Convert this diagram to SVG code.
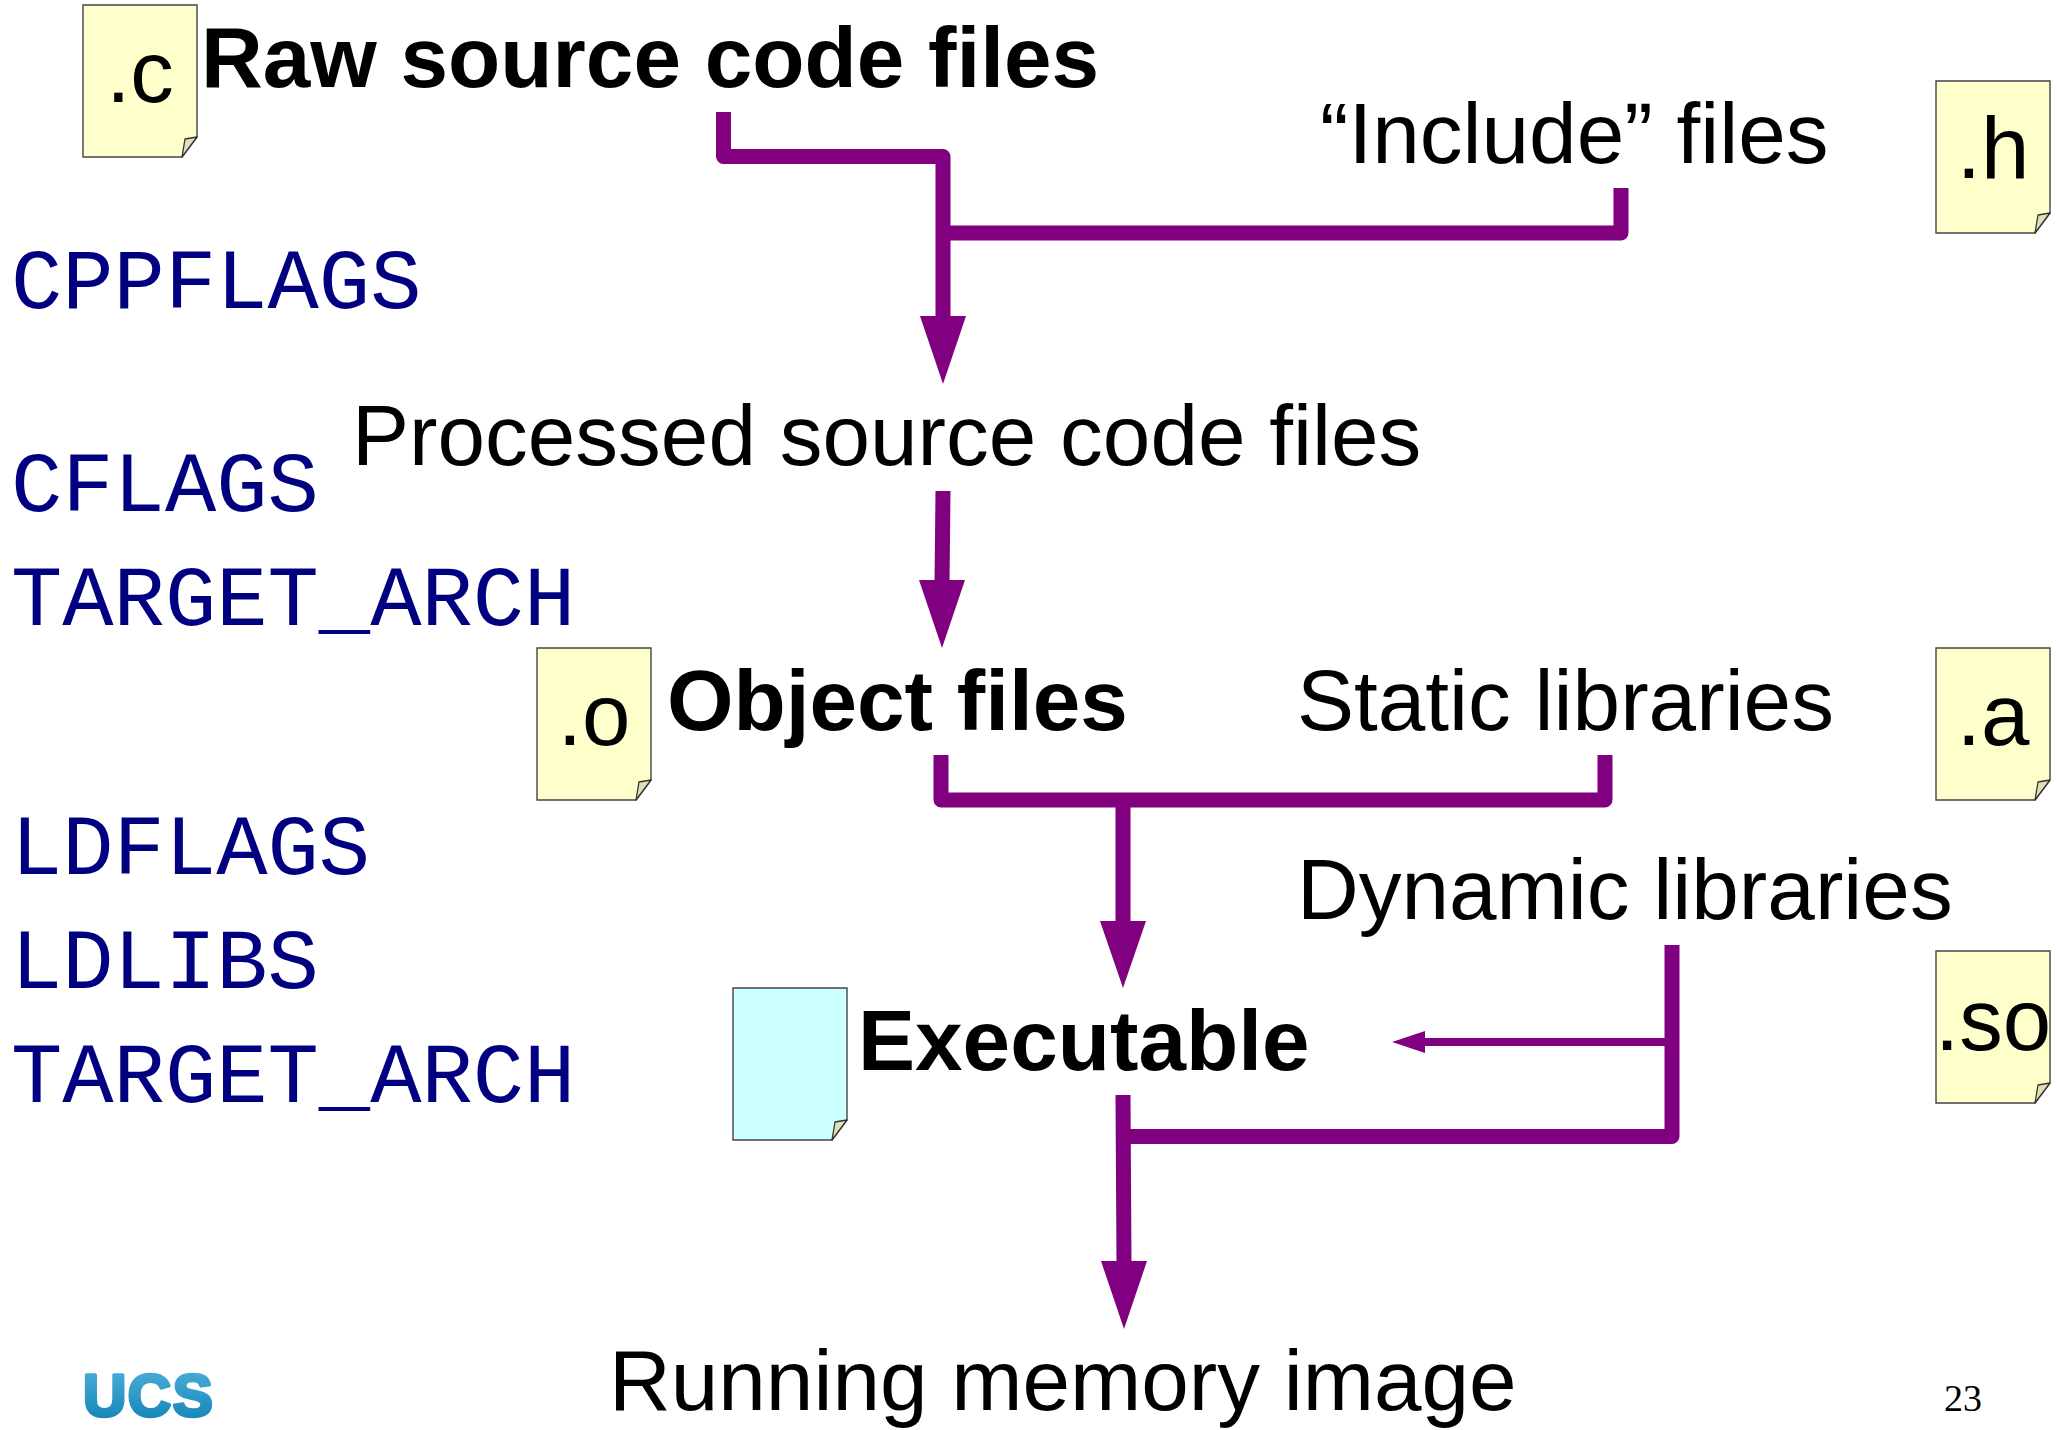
<svg xmlns="http://www.w3.org/2000/svg" width="2057" height="1430" viewBox="0 0 2057 1430">
<style>
.t{font-family:"Liberation Sans",Arial,sans-serif;font-size:85.5px;fill:#000}
.l{font-family:"Liberation Sans",Arial,sans-serif;font-size:87px;fill:#000;text-anchor:middle}
.b{font-weight:bold}
.m{font-family:"Liberation Mono","Courier New",monospace;font-size:85.5px;fill:#000080}
.w{fill:none;stroke:#800080;stroke-width:15;stroke-linejoin:round}
.h{fill:#800080}
.n{stroke:#444;stroke-width:1.4}
.f{fill:#e0e0b8;stroke:#333;stroke-width:1.3;stroke-linejoin:round}
</style>
<defs>
<linearGradient id="g" x1="0" y1="0" x2="0" y2="1"><stop offset="0" stop-color="#4fb3d9"/><stop offset="1" stop-color="#0f7fb5"/></linearGradient>
<filter id="soft" x="-5%" y="-5%" width="110%" height="110%"><feGaussianBlur stdDeviation="0.7"/></filter>
<g id="yellow"><path class="n" fill="#ffffcc" d="M0 0H114V132L99 152H0Z"/><path class="f" d="M99 152L102 134L114 132Z"/></g>
<g id="cyan"><path class="n" fill="#ccffff" d="M0 0H114V132L99 152H0Z"/><path class="f" d="M99 152L102 134L114 132Z"/></g>
</defs>
<rect width="2057" height="1430" fill="#fff"/>
<g id="connectors">
<path class="w" d="M723.5 112V156.500H943V320"/><path class="h" d="M920 316H966L943 384Z"/>
<path class="w" d="M1621 188V233H943"/>
<path class="w" d="M943 491L942 584"/><path class="h" d="M919 580H965L942 648Z"/>
<path class="w" d="M941 755V800H1605V755"/>
<path class="w" d="M1123 800V925"/><path class="h" d="M1100 921H1146L1123 988Z"/>
<path class="w" d="M1672 945V1136.500H1123"/>
<path d="M1672 1042H1420" fill="none" stroke="#800080" stroke-width="8"/><path class="h" d="M1392 1042L1425 1031V1053Z"/>
<path class="w" d="M1123 1095L1124 1265"/><path class="h" d="M1101 1261H1147L1124 1329Z"/>
</g>
<g id="note-c"><use href="#yellow" x="83" y="5"/><text class="l" x="140" y="102">.c</text></g>
<g id="note-h"><use href="#yellow" x="1936" y="81"/><text class="l" x="1993" y="178">.h</text></g>
<g id="note-o"><use href="#yellow" x="537" y="648"/><text class="l" x="594" y="745">.o</text></g>
<g id="note-a"><use href="#yellow" x="1936" y="648"/><text class="l" x="1993" y="745">.a</text></g>
<g id="note-so"><use href="#yellow" x="1936" y="951"/><text class="l" x="1993" y="1050">.so</text></g>
<g id="note-exe"><use href="#cyan" x="733" y="988"/></g>
<g id="raw"><text class="t b" x="201" y="87">Raw source code files</text></g>
<g id="include"><text class="t" x="1320" y="162.5">“Include” files</text></g>
<g id="processed"><text class="t" x="352" y="464.5">Processed source code files</text></g>
<g id="object"><text class="t b" x="667" y="729.5">Object files</text></g>
<g id="static"><text class="t" x="1297" y="729.5">Static libraries</text></g>
<g id="dynamic"><text class="t" x="1297" y="918.5">Dynamic libraries</text></g>
<g id="executable"><text class="t b" x="858" y="1070">Executable</text></g>
<g id="running"><text class="t" x="609" y="1410">Running memory image</text></g>
<g id="flags">
<text class="m" x="11" y="307.5">CPPFLAGS</text>
<text class="m" x="11" y="510.5">CFLAGS</text>
<text class="m" x="11" y="624.500">TARGET_ARCH</text>
<text class="m" x="11" y="873.5">LDFLAGS</text>
<text class="m" x="11" y="987.5">LDLIBS</text>
<text class="m" x="11" y="1101.5">TARGET_ARCH</text>
</g>
<g id="logo"><text x="83" y="1416" font-family="'Liberation Sans',Arial,sans-serif" font-weight="bold" font-size="60" letter-spacing="1.5" fill="url(#g)" stroke="url(#g)" stroke-width="3.5" stroke-linejoin="round" filter="url(#soft)">UCS</text></g>
<g id="page"><text x="1944" y="1411" font-family="'Liberation Serif','Times New Roman',serif" font-size="38" fill="#000">23</text></g>
</svg>
